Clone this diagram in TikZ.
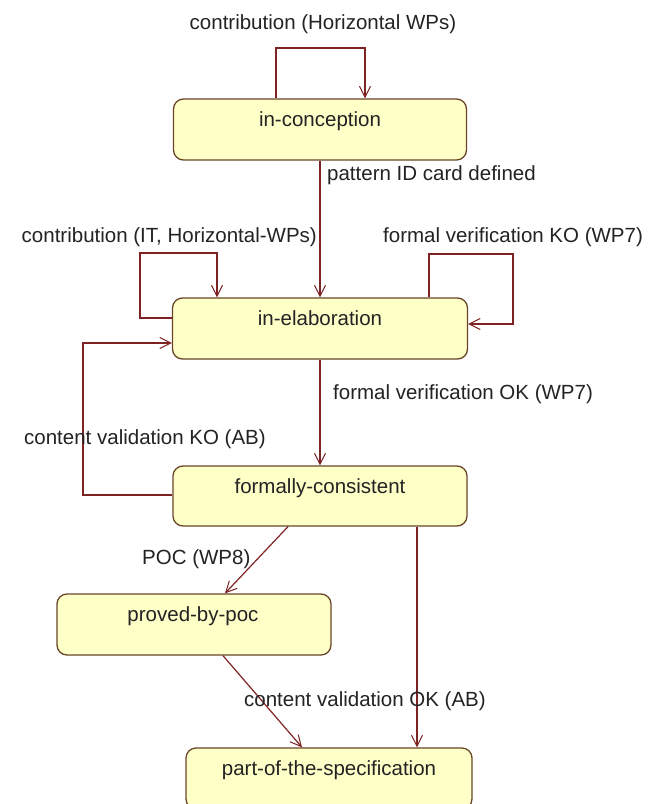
\documentclass[tikz,border=0pt]{standalone}
\usepackage{fontspec}
\setmainfont{Liberation Sans}
\usetikzlibrary{arrows.meta}
\definecolor{boxfill}{RGB}{255,255,200}
\definecolor{boxline}{RGB}{105,70,40}
\definecolor{arrline}{RGB}{125,35,35}
\definecolor{txt}{RGB}{35,35,35}
\tikzset{
  stbox/.style={draw=boxline, line width=1.3pt, fill=boxfill, rounded corners=10pt,
    rectangle, inner sep=0pt},
  sttext/.style={anchor=base, inner sep=0pt, text=txt, font=\fontsize{20.5}{24}\selectfont},
  lbl/.style={inner sep=0pt, text=txt, font=\fontsize{20.5}{24}\selectfont},
  arr/.style={draw=arrline, line width=1.2pt, -{Straight Barb[length=11pt,width=11pt,line width=1pt]}}
}
\begin{document}
\begin{tikzpicture}[x=1pt,y=-1pt]
\clip (0,0) rectangle (653,804);
\fill[white] (0,0) rectangle (653,804);

% states
\node[stbox, minimum width=293pt, minimum height=61pt] (inc) at (320,129.5) {};
\node[sttext] (inct) at (320,126) {in-conception};
\node[stbox, minimum width=295pt, minimum height=61pt] (inel) at (320,328.5) {};
\node[sttext] (inelt) at (320,325) {in-elaboration};
\node[stbox, minimum width=294pt, minimum height=60pt] (fc) at (320,496) {};
\node[sttext] (fct) at (320,493) {formally-consistent};
\node[stbox, minimum width=274pt, minimum height=61pt] (pbp) at (194,624.5) {};
\node[sttext] (pbpt) at (193,621) {proved-by-poc};
\node[stbox, minimum width=286pt, minimum height=61pt] (pos) at (329,778.5) {};
\node[sttext] (post) at (329,775) {part-of-the-specification};

% transitions
\draw[arr] (inc.north -| 276,0) |- (365,48) -- (inc.north -| 365,0);
\draw[arr] (inc.south) -- (inel.north);
\draw[arr] (inel.west |- 0,318) -| (140,253) -| (inel.north -| 217,0);
\draw[arr] (inel.north -| 429,0) |- (513,254) |- (inel.east |- 0,324);
\draw[arr] (inel.south) -- (fc.north);
\draw[arr] (fc.west |- 0,495) -| (83,343) -- (inel.west |- 0,343);
\draw[arr] (fc.south -| 288,0) -- (pbp.north -| 225,0);
\draw[arr] (fc.south -| 417,0) -- (pos.north -| 417,0);
\draw[arr] (pbp.south -| 223,0) -- (pos.north -| 302,0);

% labels
\node[lbl, anchor=base] (l1) at (323,29) {contribution (Horizontal WPs)};
\node[lbl, anchor=base west] (l2) at (327,180) {pattern ID card defined};
\node[lbl, anchor=base east] (l3) at (317,242) {contribution (IT, Horizontal-WPs)};
\node[lbl, anchor=base west] (l4) at (383,242) {formal verification KO (WP7)};
\node[lbl, anchor=base west] (l5) at (333,399) {formal verification OK (WP7)};
\node[lbl, anchor=base west] (l6) at (24,444) {content validation KO (AB)};
\node[lbl, anchor=base west] (l7) at (142,564) {POC (WP8)};
\node[lbl, anchor=base west] (l8) at (244,706) {content validation OK (AB)};
\end{tikzpicture}
\end{document}
